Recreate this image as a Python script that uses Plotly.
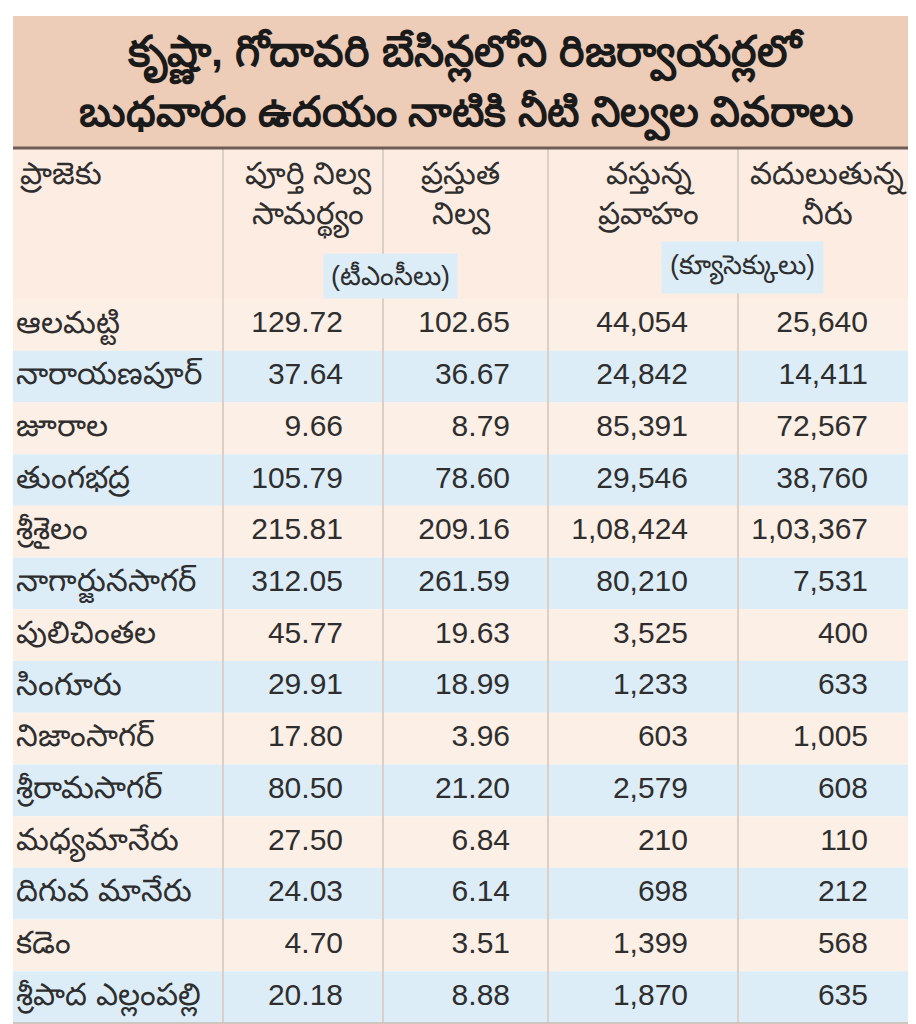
import plotly.graph_objects as go

title_lines = ["కృష్ణా, గోదావరి బేసిన్లలోని రిజర్వాయర్లలో", "బుధవారం ఉదయం నాటికి నీటి నిల్వల వివరాలు"]
headers = ["ప్రాజెకు", "పూర్తి నిల్వ<br>సామర్థ్యం", "ప్రస్తుత<br>నిల్వ", "వస్తున్న<br>ప్రవాహం", "వదులుతున్న<br>నీరు"]
unit_tmc = "(టీఎంసీలు)"
unit_cusecs = "(క్యూసెక్కులు)"

projects = ["ఆలమట్టి", "నారాయణపూర్", "జూరాల", "తుంగభద్ర", "శ్రీశైలం", "నాగార్జునసాగర్", "పులిచింతల",
            "సింగూరు", "నిజాంసాగర్", "శ్రీరామసాగర్", "మధ్యమానేరు", "దిగువ మానేరు", "కడెం", "శ్రీపాద ఎల్లంపల్లి"]
full_capacity = [129.72, 37.64, 9.66, 105.79, 215.81, 312.05, 45.77, 29.91, 17.80, 80.50, 27.50, 24.03, 4.70, 20.18]
present_storage = [102.65, 36.67, 8.79, 78.60, 209.16, 261.59, 19.63, 18.99, 3.96, 21.20, 6.84, 6.14, 3.51, 8.88]
inflow = [44054, 24842, 85391, 29546, 108424, 80210, 3525, 1233, 603, 2579, 210, 698, 1399, 1870]
outflow = [25640, 14411, 72567, 38760, 103367, 7531, 400, 633, 1005, 608, 110, 212, 568, 635]


def indian(n):
    # lakh style grouping: 1,08,424
    s = str(n)
    if len(s) <= 3:
        return s
    head, tail = s[:-3], s[-3:]
    parts = []
    while len(head) > 2:
        parts.insert(0, head[-2:])
        head = head[:-2]
    if head:
        parts.insert(0, head)
    return ",".join(parts) + "," + tail


W, H = 916, 1024
col_edges = [5, 215, 375, 540, 730, 912]
right_anchor = [None, 335, 502, 680, 860]
top_band, title_bottom, head_bottom, body_bottom = 8, 140, 291, 1015
row_h = (body_bottom - head_bottom) / len(projects)
row_y = [head_bottom + row_h * (i + 0.5) for i in range(len(projects))]

peach = "#fcefe6"
blue = "#dcedf8"
txt = "#2e2e2e"
fnt = "Liberation Sans, Arial, sans-serif"

fig = go.Figure()

shapes = []
# title band
shapes.append(dict(type="rect", x0=col_edges[0], x1=col_edges[-1], y0=top_band, y1=title_bottom,
                   fillcolor="#edcdb8", line_width=0, layer="below"))
# header background
shapes.append(dict(type="rect", x0=col_edges[0], x1=col_edges[-1], y0=title_bottom, y1=head_bottom,
                   fillcolor="#fcece2", line_width=0, layer="below"))
# body rows
for i, y in enumerate(row_y):
    shapes.append(dict(type="rect", x0=col_edges[0], x1=col_edges[-1], y0=y - row_h / 2, y1=y + row_h / 2,
                       fillcolor=peach if i % 2 == 0 else blue, line_width=0, layer="below"))
# column dividers
for x in col_edges[1:-1]:
    shapes.append(dict(type="line", x0=x, x1=x, y0=title_bottom, y1=body_bottom,
                       line=dict(color="#dccfc5", width=2), layer="below"))
shapes.append(dict(type="line", x0=col_edges[0], x1=col_edges[-1], y0=title_bottom, y1=title_bottom,
                   line=dict(color="#6e5d55", width=3)))
shapes.append(dict(type="line", x0=col_edges[0], x1=col_edges[-1], y0=body_bottom, y1=body_bottom,
                   line=dict(color="#cfc6c0", width=2)))

# project names
fig.add_trace(go.Scatter(x=[8] * len(projects), y=row_y, text=projects, mode="text",
                         textposition="middle right", textfont=dict(size=31, color=txt, family=fnt),
                         hoverinfo="skip", showlegend=False))
# number columns
columns = [
    [f"{v:.2f}" for v in full_capacity],
    [f"{v:.2f}" for v in present_storage],
    [indian(v) for v in inflow],
    [indian(v) for v in outflow],
]
for k, vals in enumerate(columns, start=1):
    fig.add_trace(go.Scatter(x=[right_anchor[k]] * len(vals), y=row_y, text=vals, mode="text",
                             textposition="middle left", textfont=dict(size=30, color=txt, family=fnt),
                             hoverinfo="skip", showlegend=False))

annotations = []
annotations.append(dict(x=W / 2, y=48, text="<b>" + title_lines[0] + "</b>", showarrow=False,
                        xanchor="center", yanchor="middle", font=dict(size=43, color="#1a1a1a", family=fnt)))
annotations.append(dict(x=W / 2, y=106, text="<b>" + title_lines[1] + "</b>", showarrow=False,
                        xanchor="center", yanchor="middle", font=dict(size=42, color="#1a1a1a", family=fnt)))
# header cells
head_x = [10, 300, 452, 640, 820]
for j, h in enumerate(headers):
    annotations.append(dict(x=head_x[j], y=146, text=h, showarrow=False,
                            xanchor="left" if j == 0 else "center", yanchor="top", align="center",
                            font=dict(size=31, color=txt, family=fnt)))
annotations.append(dict(x=382, y=268, text=unit_tmc, showarrow=False, xanchor="center", yanchor="middle",
                        bgcolor="#dcedf8", borderpad=7, font=dict(size=27, color=txt, family=fnt)))
annotations.append(dict(x=734, y=259, text=unit_cusecs, showarrow=False, xanchor="center", yanchor="middle",
                        bgcolor="#dcedf8", borderpad=8, font=dict(size=27, color=txt, family=fnt)))

fig.update_layout(
    width=W, height=H,
    margin=dict(l=0, r=0, t=0, b=0),
    paper_bgcolor="white", plot_bgcolor="white",
    xaxis=dict(range=[0, W], visible=False, fixedrange=True),
    yaxis=dict(range=[H, 0], visible=False, fixedrange=True),
    shapes=shapes, annotations=annotations,
)
fig.write_html("out.html")
